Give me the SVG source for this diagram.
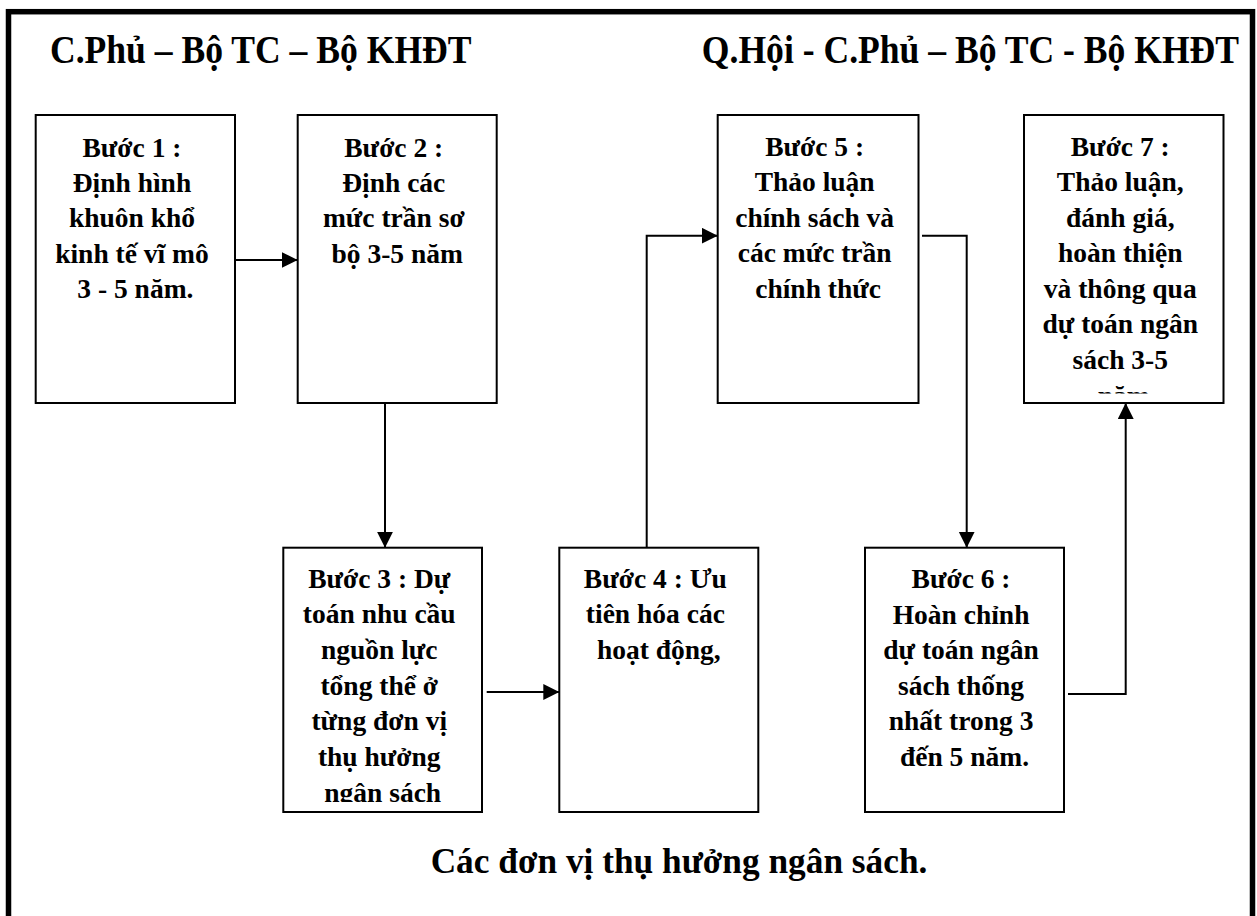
<svg xmlns="http://www.w3.org/2000/svg" width="1257" height="916" viewBox="0 0 1257 916">
  <style>
    .frame { fill: none; stroke: #000; stroke-width: 5.5; }
    .box { fill: #fff; stroke: #000; stroke-width: 2; }
    .lbl { font-family: "Liberation Serif", "Times New Roman", serif; font-weight: bold; font-size: 27.5px; fill: #000; text-anchor: middle; }
    .head { font-family: "Liberation Serif", "Times New Roman", serif; font-weight: bold; font-size: 35.6px; fill: #000; }
    .foot { font-family: "Liberation Serif", "Times New Roman", serif; font-weight: bold; font-size: 35.3px; fill: #000; text-anchor: middle; }
    .conn { fill: none; stroke: #000; stroke-width: 2; }
  </style>
  <defs>
    <marker id="arrow" markerUnits="userSpaceOnUse" markerWidth="17" markerHeight="17" refX="16" refY="8" orient="auto">
      <path d="M0,0 L16,8 L0,16 Z" fill="#000"/>
    </marker>
    <clipPath id="clip3"><rect x="283" y="548" width="199" height="254"/></clipPath>
    <clipPath id="clip7"><rect x="1024" y="115" width="200" height="278.5"/></clipPath>
  </defs>

  <rect width="1257" height="916" fill="#fff"/>

  <!-- outer frame, open past the bottom edge -->
  <rect class="frame" x="8.5" y="11.7" width="1244" height="1000"/>

  <!-- column headings -->
  <g id="heading-left">
    <text class="head" transform="translate(50,62.7) scale(1,1.1)">C.Phủ – Bộ TC – Bộ KHĐT</text>
  </g>
  <g id="heading-right">
    <text class="head" text-anchor="end" transform="translate(1239,62.7) scale(1,1.1)">Q.Hội - C.Phủ – Bộ TC - Bộ KHĐT</text>
  </g>

  <!-- step boxes -->
  <g id="step1">
    <rect class="box" x="35.7" y="115" width="199.3" height="288"/>
    <text class="lbl">
      <tspan x="135.4" y="156.5">Bước 1 :</tspan>
      <tspan x="135.4" y="191.9">Định hình</tspan>
      <tspan x="135.4" y="227.3">khuôn khổ</tspan>
      <tspan x="135.4" y="262.7">kinh tế vĩ mô</tspan>
      <tspan x="135.4" y="298.1">3 - 5 năm.</tspan>
    </text>
  </g>

  <g id="step2">
    <rect class="box" x="297.7" y="115" width="199" height="288"/>
    <text class="lbl">
      <tspan x="397.2" y="156.5">Bước 2 :</tspan>
      <tspan x="397.2" y="191.9">Định các</tspan>
      <tspan x="397.2" y="227.3">mức trần sơ</tspan>
      <tspan x="397.2" y="262.7">bộ 3-5 năm</tspan>
    </text>
  </g>

  <g id="step3">
    <rect class="box" x="283.3" y="547.7" width="198.7" height="264.3"/>
    <text class="lbl" clip-path="url(#clip3)">
      <tspan x="382.7" y="587.7">Bước 3 : Dự</tspan>
      <tspan x="382.7" y="623.4">toán nhu cầu</tspan>
      <tspan x="382.7" y="659.1">nguồn lực</tspan>
      <tspan x="382.7" y="694.7">tổng thể ở</tspan>
      <tspan x="382.7" y="730.4">từng đơn vị</tspan>
      <tspan x="382.7" y="766.1">thụ hưởng</tspan>
      <tspan x="382.7" y="801.8">ngân sách</tspan>
    </text>
  </g>

  <g id="step4">
    <rect class="box" x="559.3" y="547.7" width="199" height="264.3"/>
    <text class="lbl">
      <tspan x="658.8" y="587.7">Bước 4 : Ưu</tspan>
      <tspan x="658.8" y="623.4">tiên hóa các</tspan>
      <tspan x="658.8" y="659.1">hoạt động,</tspan>
    </text>
  </g>

  <g id="step5">
    <rect class="box" x="717.7" y="115" width="200.8" height="288"/>
    <text class="lbl">
      <tspan x="818.1" y="155.5">Bước 5 :</tspan>
      <tspan x="818.1" y="191">Thảo luận</tspan>
      <tspan x="818.1" y="226.6">chính sách và</tspan>
      <tspan x="818.1" y="262.2">các mức trần</tspan>
      <tspan x="818.1" y="297.8">chính thức</tspan>
    </text>
  </g>

  <g id="step6">
    <rect class="box" x="865" y="547.7" width="199" height="264.3"/>
    <text class="lbl">
      <tspan x="964.5" y="588.3">Bước 6 :</tspan>
      <tspan x="964.5" y="623.8">Hoàn chỉnh</tspan>
      <tspan x="964.5" y="659.3">dự toán ngân</tspan>
      <tspan x="964.5" y="694.8">sách thống</tspan>
      <tspan x="964.5" y="730.4">nhất trong 3</tspan>
      <tspan x="964.5" y="766">đến 5 năm.</tspan>
    </text>
  </g>

  <g id="step7">
    <rect class="box" x="1024" y="115" width="199.5" height="288"/>
    <text class="lbl" clip-path="url(#clip7)">
      <tspan x="1123.7" y="155.5">Bước 7 :</tspan>
      <tspan x="1123.7" y="191">Thảo luận,</tspan>
      <tspan x="1123.7" y="226.6">đánh giá,</tspan>
      <tspan x="1123.7" y="262.2">hoàn thiện</tspan>
      <tspan x="1123.7" y="297.8">và thông qua</tspan>
      <tspan x="1123.7" y="333.3">dự toán ngân</tspan>
      <tspan x="1123.7" y="368.8">sách 3-5</tspan>
      <tspan x="1123.7" y="405">năm</tspan>
    </text>
  </g>

  <!-- flow between steps -->
  <g id="connectors">
    <path class="conn" d="M235,260 H297.7" marker-end="url(#arrow)"/>
    <path class="conn" d="M385,403 V547.7" marker-end="url(#arrow)"/>
    <path class="conn" d="M486.7,692 H559.3" marker-end="url(#arrow)"/>
    <path class="conn" d="M646.7,547.7 V235.7 H717.7" marker-end="url(#arrow)"/>
    <path class="conn" d="M922,235.7 H966.7 V547.7" marker-end="url(#arrow)"/>
    <path class="conn" d="M1068,694 H1125.7 V403" marker-end="url(#arrow)"/>
  </g>

  <!-- bottom row caption -->
  <g id="caption-bottom">
    <text class="foot" x="679" y="873.3">Các đơn vị thụ hưởng ngân sách.</text>
  </g>
</svg>
